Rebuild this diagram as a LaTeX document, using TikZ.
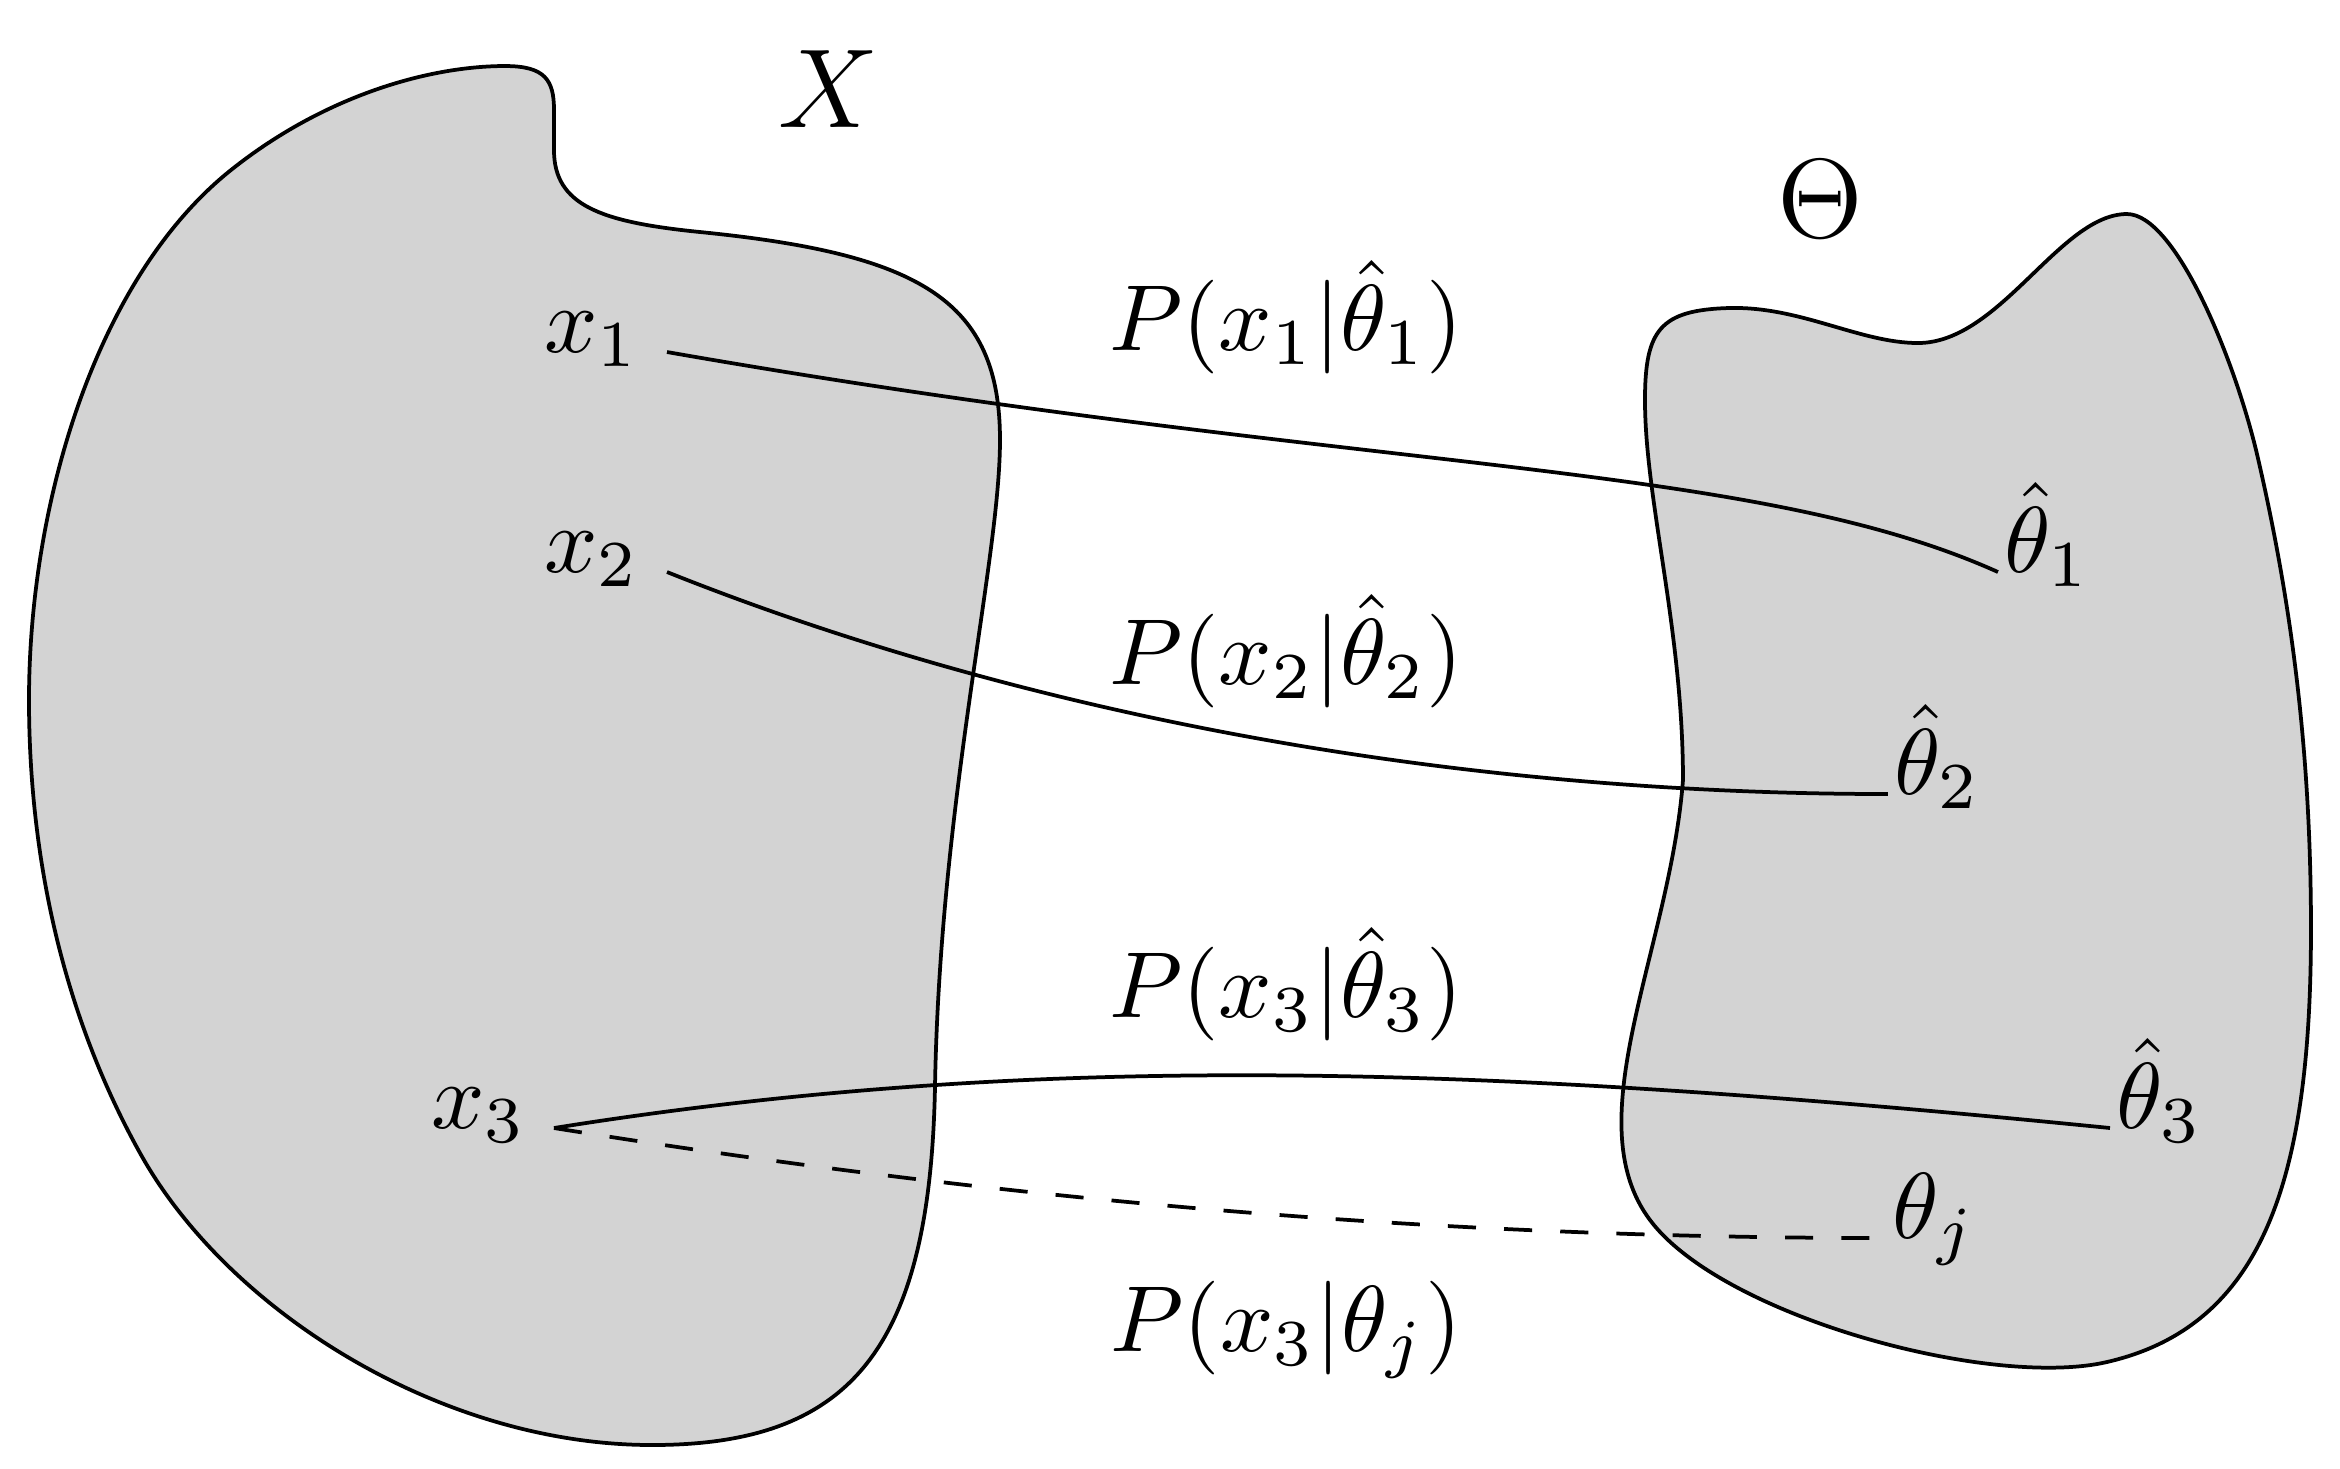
\documentclass[tikz,border=0pt]{standalone}
\usepackage{amsmath, amssymb}
\usepackage{tikz}
\usetikzlibrary{positioning}
\definecolor{regiongray}{RGB}{211,211,211}
\tikzset{
  region/.style={draw, fill=regiongray},
  sample/.style={inner sep=0pt, inner xsep=2.7pt, anchor=base east},
  param/.style={inner sep=0pt, inner xsep=0.5pt, anchor=base west},
  likeli/.style={inner sep=0pt, anchor=base},
  setname/.style={font=\large, inner sep=0pt, anchor=base},
  linkline/.style={thin},
  altline/.style={thin, dashed}
}

\begin{document}
\begin{tikzpicture}[x=0.1067pt, y=-0.1067pt]
  \useasboundingbox (0,0) rectangle (2340,1468);
  % sample space X
  \draw[region] (505,66) .. controls (545,66) and (554,80) .. (554,110) -- (554,150)
    .. controls (554,205) and (600,222) .. (700,232)
    .. controls (920,254) and (1000,300) .. (1000,440)
    .. controls (1000,560) and (940,800) .. (935,1087)
    .. controls (930,1350) and (850,1445) .. (652,1445)
    .. controls (440,1445) and (227,1310) .. (140,1153)
    .. controls (60,1009) and (29,850) .. (29,700)
    .. controls (29,500) and (98,276) .. (231,170)
    .. controls (325,95) and (430,66) .. cycle;
  % parameter space Theta
  \draw[region] (2127,214) .. controls (2175,214) and (2234,357) .. (2257,454)
    .. controls (2291,600) and (2311,750) .. (2311,929)
    .. controls (2311,1180) and (2263,1326) .. (2107,1362)
    .. controls (1990,1389) and (1722,1316) .. (1650,1220)
    .. controls (1575,1120) and (1670,950) .. (1683,780)
    .. controls (1683,630) and (1645,500) .. (1645,400)
    .. controls (1645,330) and (1660,310) .. (1729,308)
    .. controls (1800,306) and (1860,343) .. (1918,343)
    .. controls (2000,343) and (2060,214) .. cycle;

  \node[setname] (setX) at (829,127) {$X$};
  \node[setname] (setTh) at (1820,237) {$\Theta$};

  \node[sample] (x1) at (667,352) {$x_1$};
  \node[sample] (x2) at (667,572) {$x_2$};
  \node[sample] (x3) at (554,1128) {$x_3$};

  \node[param] (th1) at (1998,572) {$\hat{\theta}_1$};
  \node[param] (th2) at (1888,794) {$\hat{\theta}_2$};
  \node[param] (th3) at (2110,1128) {$\hat{\theta}_3$};
  \node[param] (thj) at (1886,1238) {$\theta_j$};

  \node[likeli] (p1) at (1286,350) {$P(x_1|\hat{\theta}_1)$};
  \node[likeli] (p2) at (1286,684) {$P(x_2|\hat{\theta}_2)$};
  \node[likeli] (p3) at (1286,1017) {$P(x_3|\hat{\theta}_3)$};
  \node[likeli] (pj) at (1286,1351) {$P(x_3|\theta_j)$};

  \draw[linkline] (x1.base east) .. controls +(700,122.5) and +(-250,-112.5) .. (th1.base west);
  \draw[linkline] (x2.base east) .. controls +(300,120) and +(-500,0) .. (th2.base west);
  \draw[linkline] (x3.base east) .. controls +(500,-80) and +(-600,-60) .. (th3.base west);
  \draw[altline] (x3.base east) .. controls +(400,64) and +(-500,0) .. (thj.base west);
\end{tikzpicture}
\end{document}
